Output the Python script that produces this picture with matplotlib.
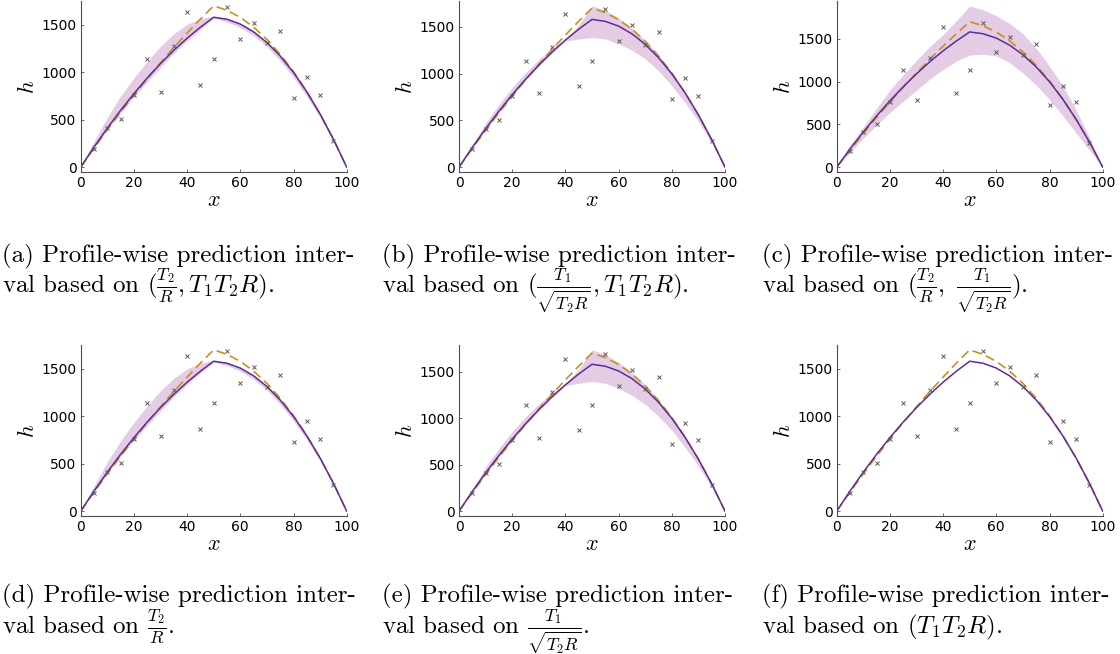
import numpy as np
import matplotlib.pyplot as plt

# model grid and curves
x_grid = [0, 5, 10, 15, 20, 25, 30, 35, 40, 45, 50,
          55, 60, 65, 70, 75, 80, 85, 90, 95, 100]
h_true = [0, 200, 393, 580, 760, 933, 1100, 1260, 1413, 1560, 1700,
          1652, 1578, 1476, 1347, 1190, 1007, 796, 558, 293, 0]
h_mle = [0, 212, 411, 599, 775, 939, 1091, 1231, 1359, 1475, 1580,
         1559, 1508, 1426, 1314, 1171, 998, 794, 560, 295, 0]

# noisy observations
x_obs = [5, 10, 15, 20, 25, 30, 35, 40, 45, 50, 55, 60, 65, 70, 75, 80, 85, 90, 95]
h_obs = [190, 410, 505, 760, 1140, 790, 1280, 1640, 870, 1140,
         1690, 1350, 1520, 1310, 1440, 725, 950, 760, 280]

# prediction interval bands (lower, upper)
band_a_lo = [0, 200, 395, 570, 740, 900, 1050, 1200, 1330, 1450, 1570,
             1530, 1470, 1385, 1270, 1120, 945, 745, 525, 275, 0]
band_a_hi = [0, 270, 525, 750, 940, 1115, 1275, 1405, 1505, 1565, 1590,
             1565, 1515, 1435, 1325, 1185, 1010, 805, 570, 300, 0]
band_b_lo = [0, 200, 400, 580, 760, 930, 1080, 1220, 1350, 1370, 1385,
             1370, 1320, 1250, 1160, 1030, 870, 690, 490, 260, 0]
band_b_hi = [0, 230, 470, 670, 850, 1010, 1150, 1270, 1370, 1520, 1725,
             1680, 1595, 1490, 1355, 1195, 1010, 800, 562, 295, 0]
band_c_lo = [0, 170, 340, 490, 640, 770, 900, 1030, 1140, 1240, 1310,
             1320, 1300, 1220, 1100, 960, 790, 600, 400, 200, 0]
band_c_hi = [0, 260, 470, 690, 900, 1080, 1250, 1410, 1550, 1710, 1885,
             1840, 1770, 1680, 1560, 1390, 1180, 950, 670, 350, 0]
band_d_lo = [0, 200, 395, 575, 745, 905, 1055, 1205, 1335, 1455, 1570,
             1535, 1475, 1390, 1275, 1125, 950, 750, 530, 278, 0]
band_d_hi = [0, 265, 520, 740, 935, 1110, 1270, 1400, 1500, 1560, 1590,
             1565, 1515, 1435, 1325, 1185, 1010, 805, 570, 300, 0]
band_e_lo = [0, 200, 400, 580, 760, 930, 1080, 1220, 1350, 1375, 1395,
             1375, 1320, 1245, 1150, 1020, 870, 685, 485, 258, 0]
band_e_hi = [0, 235, 475, 675, 855, 1015, 1155, 1270, 1370, 1525, 1735,
             1685, 1600, 1495, 1360, 1200, 1015, 805, 565, 297, 0]

bands = [(band_a_lo, band_a_hi), (band_b_lo, band_b_hi), (band_c_lo, band_c_hi),
         (band_d_lo, band_d_hi), (band_e_lo, band_e_hi), None]

fa = r"\frac{T_2}{R}"
fb = r"\frac{T_1}{\sqrt{T_2R}}"
captions = [
    ("(a) Profile-wise prediction inter-", r"val based on $(" + fa + r", T_1T_2R)$."),
    ("(b) Profile-wise prediction inter-", r"val based on $(" + fb + r", T_1T_2R)$."),
    ("(c) Profile-wise prediction inter-", r"val based on $(" + fa + r",\ " + fb + r")$."),
    ("(d) Profile-wise prediction inter-", r"val based on $" + fa + r"$."),
    ("(e) Profile-wise prediction inter-", r"val based on $" + fb + r"$."),
    ("(f) Profile-wise prediction inter-", r"val based on $(T_1T_2R)$."),
]

plt.rcParams['mathtext.fontset'] = 'cm'
plt.rcParams['font.family'] = 'DejaVu Sans'

W, H = 1120, 654
fig = plt.figure(figsize=(W / 100, H / 100), dpi=100)

col_left = [80.7, 459, 836.7]
col_width = 266
row_top = [1, 345]
row_bottom = [172, 516]
cap_base = [(262, 292), (602, 633)]
cap_left = [2, 382, 762]

purple = '#5b2c9c'
gold = '#c8901e'

for i in range(6):
    r, c = divmod(i, 3)
    l = col_left[c]
    ax = fig.add_axes([l / W, 1 - row_bottom[r] / H, col_width / W,
                       (row_bottom[r] - row_top[r]) / H])
    if bands[i] is not None:
        lo, hi = bands[i]
        ax.fill_between(x_grid, lo, hi, color='purple', alpha=0.2, lw=0)
    ax.plot(x_grid, h_true, color=gold, lw=1.2, ls=(0, (5.5, 3)))
    ax.plot(x_grid, h_mle, color=purple, lw=1.1)
    ax.plot(x_obs, h_obs, 'x', color='0.35', ms=3.2, mew=0.7)

    ax.set_xlim(0, 100)
    ax.margins(y=0.03)
    ax.set_xticks([0, 20, 40, 60, 80, 100])
    ax.set_yticks([0, 500, 1000, 1500])
    for s in ['top', 'right']:
        ax.spines[s].set_visible(False)
    for s in ['left', 'bottom']:
        ax.spines[s].set_color('0.3')
        ax.spines[s].set_linewidth(0.8)
    ax.tick_params(direction='in', length=2.5, width=0.6, color='0.3',
                   labelsize=10, pad=3)
    ax.set_xlabel(r'$x$', fontsize=16)
    ax.set_ylabel(r'$h$', fontsize=16)
    ax.xaxis.set_label_coords(0.5, -0.165)
    ax.xaxis.label.set_va('center')
    ax.yaxis.set_label_coords(-0.2, 0.5)
    ax.yaxis.label.set_va('center')

    line1, line2 = captions[i]
    fig.text(cap_left[c] / W, 1 - cap_base[r][0] / H, line1, fontsize=18,
             family='cmr10', va='baseline', ha='left')
    fig.text(cap_left[c] / W, 1 - cap_base[r][1] / H, line2, fontsize=18,
             family='cmr10', va='baseline', ha='left')

fig.savefig('out.png', dpi=100)
